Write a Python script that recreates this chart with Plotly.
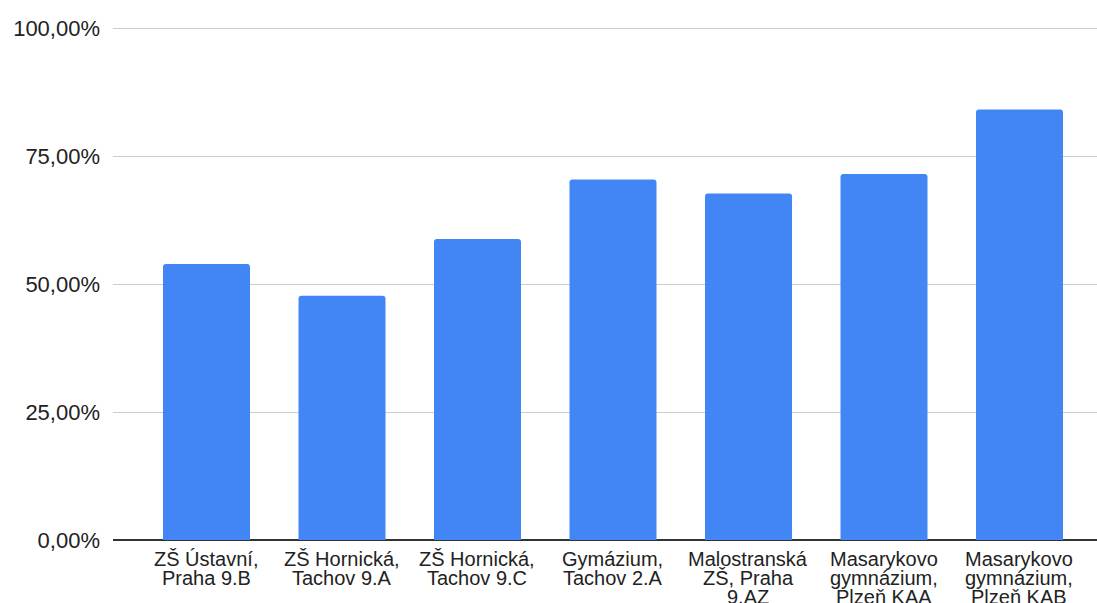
import plotly.graph_objects as go

categories = [
    "ZŠ Ústavní,<br>Praha 9.B",
    "ZŠ Hornická,<br>Tachov 9.A",
    "ZŠ Hornická,<br>Tachov 9.C",
    "Gymázium,<br>Tachov 2.A",
    "Malostranská<br>ZŠ, Praha<br>9.AZ",
    "Masarykovo<br>gymnázium,<br>Plzeň KAA",
    "Masarykovo<br>gymnázium,<br>Plzeň KAB",
]
values = [0.539, 0.477, 0.588, 0.704, 0.677, 0.715, 0.841]
y_ticks = [0, 0.25, 0.5, 0.75, 1.0]

font_family = "Arial, Liberation Sans, sans-serif"
text_color = "#222222"

x_idx = list(range(len(categories)))

fig = go.Figure(
    go.Bar(
        x=x_idx,
        y=values,
        marker=dict(color="#4285F4", cornerradius=3, line=dict(width=0)),
        width=0.642,
    )
)

# category labels, one text line per annotation (tight line spacing)
annotations = []
for i, label in enumerate(categories):
    for k, line in enumerate(label.split("<br>")):
        annotations.append(
            dict(
                x=i, y=0, xref="x", yref="y",
                text=line, showarrow=False,
                xanchor="center", yanchor="middle",
                yshift=-(19 + 19 * k),
                font=dict(size=20, family=font_family, color=text_color),
            )
        )

fig.update_layout(
    width=1097,
    height=603,
    margin=dict(l=113, r=0, t=26, b=63),
    paper_bgcolor="white",
    plot_bgcolor="white",
    separators=", ",
    showlegend=False,
    font=dict(family=font_family, color=text_color),
    annotations=annotations,
)

fig.update_xaxes(
    range=[-0.69, 6.572],
    showticklabels=False,
    showgrid=False,
    zeroline=False,
    showline=False,
    ticks="",
)

fig.update_yaxes(
    range=[0, 514 / 512],
    tickvals=y_ticks,
    tickformat=".2%",
    tickfont=dict(size=22, family=font_family, color=text_color),
    showgrid=True,
    gridcolor="#cccccc",
    gridwidth=1,
    zeroline=True,
    zerolinecolor="#333333",
    zerolinewidth=2,
    showline=False,
    ticks="",
    ticklabelstandoff=12,
)

fig.write_html("out.html")
